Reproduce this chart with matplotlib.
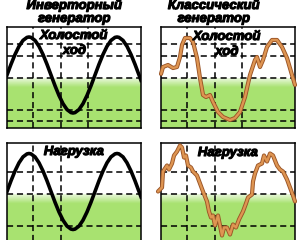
import numpy as np
import matplotlib
matplotlib.use('Agg')
import matplotlib.pyplot as plt
import matplotlib.patheffects as pe

W, H = 300, 240

# inverter generator: clean sine (time in px-divisions, amplitude around midline)
sine_t = [0, 4, 8, 12, 16, 20, 22, 24, 28, 32, 36, 40,
          44, 48, 52, 56, 60, 64, 66, 68, 72, 76, 80, 84,
          88, 92, 96, 100, 104, 108, 110, 112, 116, 120, 124, 128,
          132, 134]
sine_v = [0, 10.7, 20.5, 28.7, 34.6, 37.6, 38, 37.6, 34.6, 28.7, 20.5, 10.7,
          0, -10.7, -20.5, -28.7, -34.6, -37.6, -38, -37.6, -34.6, -28.7, -20.5, -10.7,
          0, 10.7, 20.5, 28.7, 34.6, 37.6, 38, 37.6, 34.6, 28.7, 20.5, 10.7,
          0, -5.4]

# classic generator, idle
idle_t = [0, 2, 7, 12, 16, 19, 21, 24, 29, 32, 36, 39, 42, 45, 49, 52, 57,
          62, 69, 74, 79, 84, 89, 94, 96, 99, 102, 106, 111, 116, 121, 126,
          131, 134]
idle_v = [1, 8, 10, 7, 8, 18, 30, 37, 37, 33, 17, -3, -20, -22, -20, -27, -37,
          -42, -45, -43, -37, -22, 0, 15, 18, 8, 15, 28, 35, 35, 28, 17,
          0, -10]

# classic generator, under load
load_t = [-3, 1, 2, 6, 8, 11, 13, 16, 19, 21, 23, 25, 27, 30, 32, 36, 39, 42,
          46, 48, 50, 52, 54, 57, 59, 61, 63, 66, 69, 72, 75, 78, 82, 85, 87,
          91, 92, 94, 97, 101, 103, 106, 109, 112, 116, 119, 122, 126, 129,
          132, 134]
load_v = [0, 4, 20, 26, 22, 28, 36, 40, 46, 44, 34, 36, 26, 24, 20, 16, 8, 0,
          -10, -20, -26, -24, -34, -24, -34, -44, -36, -36, -43, -33, -36, -28,
          -20, -12, -6, -3, 10, 18, 26, 28, 36, 30, 38, 36, 26, 22, 20, 12, 4,
          -4, -10]

top_levels = [31, 19.5, -3, -35, -45.5]
bottom_levels = [19.5, -2.5, -34.5]
top_vlines = [26, 54, 81]
bottom_vlines = [26, 54]

titles = ['Инверторный\nгенератор', 'Классический\nгенератор']
idle_label = ['Холостой', 'ход']
load_label = 'Нагрузка'

GREEN = (0.66, 0.89, 0.44)
FONT = dict(family='Liberation Sans', fontweight='bold', fontstyle='italic',
            fontsize=9.5, color='black')
HEAVY = [pe.withStroke(linewidth=0.8, foreground='black')]

fig = plt.figure(figsize=(W / 100, H / 100), dpi=100)


def px_axes(x0, y0, x1, y1):
    return fig.add_axes([x0 / W, 1 - y1 / H, (x1 - x0) / W, (y1 - y0) / H])


def green_fill(ax, top, bottom):
    n = 80
    rgba = np.zeros((n, 1, 4))
    rgba[..., :3] = GREEN
    depth = np.linspace(0, top - bottom, n)
    rgba[:, 0, 3] = np.clip(0.25 + 0.75 * depth / 9, 0, 1)
    ax.imshow(rgba, extent=[0, 134, bottom, top], aspect='auto',
              interpolation='bilinear', zorder=0)


def panel(ax, ylim, levels, vlines, t, v, classic):
    green_fill(ax, -3, ylim[0])
    for y in levels:
        ax.axhline(y, color='black', lw=1.1, ls=(0, (4, 2.5)), zorder=2)
    for x in vlines:
        ax.axvline(x, color='black', lw=1.1, ls=(0, (4, 2.5)), zorder=2)
    if classic:
        ax.plot(t, v, color='#9a5426', lw=3.0, solid_joinstyle='round',
                solid_capstyle='round', zorder=3, clip_on=False)
        ax.plot(t, v, color='#de9552', lw=1.7, solid_joinstyle='round',
                solid_capstyle='round', zorder=4, clip_on=False)
    else:
        ax.plot(t, v, color='black', lw=2.6, solid_joinstyle='round', zorder=3)
    ax.set_xlim(0, 134)
    ax.set_ylim(*ylim)
    ax.set_xticks([])
    ax.set_yticks([])
    for s in ax.spines.values():
        s.set_linewidth(1.1)
        s.set_color('black')


ax1 = px_axes(7, 27, 141, 128)
panel(ax1, (-53, 48), top_levels, top_vlines, sine_t, sine_v, False)
ax2 = px_axes(161, 27, 295, 128)
panel(ax2, (-53, 48), top_levels, top_vlines, idle_t, idle_v, True)
ax3 = px_axes(7, 143, 141, 248)
panel(ax3, (-56.5, 48.5), bottom_levels, bottom_vlines, sine_t, sine_v, False)
ax4 = px_axes(161, 143, 295, 248)
panel(ax4, (-56.5, 48.5), bottom_levels, bottom_vlines, load_t, load_v, True)


def label(x, y, s):
    fig.text(x / W, 1 - y / H, s, ha='center', va='baseline', zorder=10,
             path_effects=HEAVY, **FONT)


for cx, title in zip([74.5, 214], titles):
    line1, line2 = title.split('\n')
    label(cx, 9, line1)
    label(cx, 22, line2)

label(74, 39, idle_label[0])
label(74.5, 54, idle_label[1])
label(227, 40, idle_label[0])
label(227, 55, idle_label[1])
label(74, 155, load_label)
label(228, 156, load_label)

fig.savefig('out.png', dpi=100)
